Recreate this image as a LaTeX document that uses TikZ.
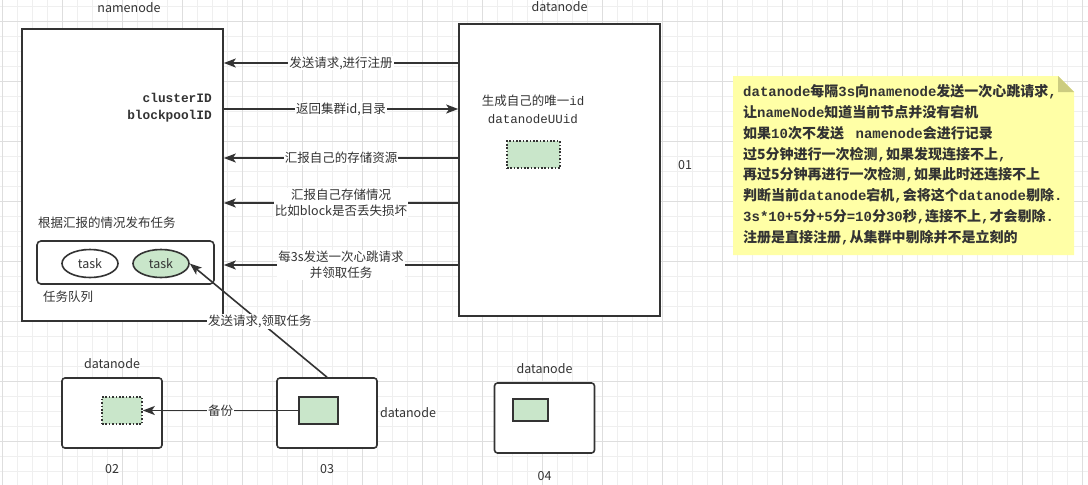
\documentclass[tikz,border=0pt]{standalone}
\usepackage{fontspec}
\setmainfont{Noto Sans CJK SC}
\setmonofont{Liberation Mono}
\usetikzlibrary{positioning,arrows.meta,shapes.geometric}

\definecolor{ink}{HTML}{333333}
\definecolor{leaf}{HTML}{C9E6CA}
\definecolor{memo}{HTML}{FFFFA6}
\definecolor{memofold}{HTML}{CCCC80}
\definecolor{gridminor}{HTML}{EFEFEF}
\definecolor{gridmajor}{HTML}{DEDEDE}

\newcommand{\mtxt}[1]{{\ttfamily #1}}

\tikzset{
>={Stealth[length=12pt,width=9pt,inset=3pt]},
  server/.style={
    rectangle,
    draw=ink, line width=1.6pt,
    fill=white,
    minimum width=201pt,
    minimum height=292pt},
  minibox/.style={
    rectangle,
    rounded corners=3pt,
    draw=ink, line width=1.6pt,
    fill=white,
    minimum width=100pt,
    minimum height=70pt},
  block/.style={rectangle, draw=ink, line width=1.6pt, fill=leaf,
    minimum width=39pt, minimum height=27pt, inner sep=0pt},
  copyblock/.style={block, dash pattern=on 1.6pt off 1.8pt},
  tasknode/.style={ellipse, draw=ink, line width=1.6pt, fill=white,
    minimum width=56pt, minimum height=28pt, inner sep=0pt,
    text=ink, font=\fontsize{12.5}{15}\selectfont},
  line/.style={draw=ink, line width=1.6pt, ->},
  msg/.style={fill=white, inner sep=1pt, align=center, text=ink,
    font=\fontsize{12.5}{16}\selectfont},
  caption/.style={text=ink, inner sep=0pt, align=center,
    font=\fontsize{12.5}{18}\selectfont},
  code/.style={text=ink, inner sep=0pt, align=right,
    font=\fontsize{12.8}{17}\selectfont\ttfamily\bfseries},
  memotext/.style={text=ink, inner sep=0pt, align=left,
    font=\fontsize{14}{20.9}\selectfont\bfseries},
  minorgrid/.style={draw=gridminor, line width=0.8pt},
  majorgrid/.style={draw=gridmajor, line width=0.8pt},
}

\begin{document}
\begin{tikzpicture}[x=1pt, y=-1pt, node distance=8pt]
\useasboundingbox[fill=white] (0,0) rectangle (1088,485);
% background grid
\foreach \gx in {2,17,...,1088} \draw[minorgrid] (\gx,0) -- (\gx,485);
\foreach \gy in {6,21,...,485} \draw[minorgrid] (0,\gy) -- (1088,\gy);
\foreach \gx in {2,62,...,1088} \draw[majorgrid] (\gx,0) -- (\gx,485);
\foreach \gy in {21,81,...,485} \draw[majorgrid] (0,\gy) -- (1088,\gy);

% namenode
\node[server] (nn) at (122.5,175) {};
\node[caption, above=15pt of nn, xshift=6.5pt] (nnlabel) {namenode};
\node[code, anchor=east] (ids) at (212,107.5) {clusterID\\blockpoolID};
\node[caption, anchor=west] (plan) at (38,223) {根据汇报的情况发布任务};
\node[draw=ink, line width=1.6pt, rounded corners=4pt,
  minimum width=177pt, minimum height=43pt] (queue) at (125.5,262.5) {};
\node[tasknode] (t1) at (90,263.5) {task};
\node[tasknode, fill=leaf] (t2) at (161,263.5) {task};
\node[caption, anchor=west] (qlabel) at (43,297) {任务队列};

% datanode 01
\node[server] (dn) at (559.5,170) {};
\node[caption, above=11pt of dn] (dnlabel) {datanode};
\node[caption] (uid) at (533,109) {生成自己的唯一\mtxt{id}\\\mtxt{datanodeUUid}};
\node[copyblock, minimum width=53pt] (c01) at (533.5,154.5) {};
\node[caption] (n01) at (685,165) {01};

% messages
\coordinate (r1) at (0,63);
\coordinate (r2) at (0,109);
\coordinate (r3) at (0,158);
\coordinate (r4) at (0,203);
\coordinate (r5) at (0,265);
\draw[line] (dn.west |- r1) -- node[msg] {发送请求,进行注册} (nn.east |- r1);
\draw[line] (nn.east |- r2) -- node[msg] {返回集群id,目录} (dn.west |- r2);
\draw[line] (dn.west |- r3) -- node[msg] {汇报自己的存储资源} (nn.east |- r3);
\draw[line] (dn.west |- r4) -- node[msg] {汇报自己存储情况\\比如block是否丢失损坏} (nn.east |- r4);
\draw[line] (dn.west |- r5) -- node[msg] {每3s发送一次心跳请求\\并领取任务} (nn.east |- r5);

% datanodes 02 03 04
\node[minibox] (b02) at (112,413) {};
\node[minibox] (b03) at (327,413) {};
\node[minibox] (b04) at (544.5,418) {};
\node[copyblock, minimum width=40pt] (c02) at (122,410.5) {};
\node[block] (c03) at (318.5,410.5) {};
\node[block, minimum width=35pt, minimum height=22pt] (c04) at (530.5,410) {};
\node[caption, above=8pt of b02] (l02) {datanode};
\node[caption, right=2pt of b03] (l03) {datanode};
\node[caption, above=8pt of b04] (l04) {datanode};
\node[caption, below=15pt of b02] (n02) {02};
\node[caption, below=15pt of b03] (n03) {03};
\node[caption, below=17pt of b04] (n04) {04};

\draw[line] (c03.west) -- node[msg] {备份} (c02.east);
\draw[line] (b03.north) -- node[msg, pos=0.49] {发送请求,领取任务} (t2.east);

% note
\path[fill=memo] (733,76) -- (1058,76) -- (1074,92) -- (1074,255) -- (733,255) -- cycle;
\path[fill=memofold] (1058,76) -- (1058,92) -- (1074,92) -- cycle;
\node[memotext, anchor=north west] (memo) at (743,84) {%
\mtxt{datanode}每隔\mtxt{3s}向\mtxt{namenode}发送一次心跳请求\mtxt{,}\\
让\mtxt{nameNode}知道当前节点并没有宕机\\
如果\mtxt{10}次不发送 \mtxt{ namenode}会进行记录\\
过5分钟进行一次检测\mtxt{,}如果发现连接不上\mtxt{,}\\
再过5分钟再进行一次检测\mtxt{,}如果此时还连接不上\\
判断当前\mtxt{datanode}宕机\mtxt{,}会将这个\mtxt{datanode}剔除\mtxt{.}\\
\mtxt{3s*10+5}分\mtxt{+5}分\mtxt{=10}分\mtxt{30}秒\mtxt{,}连接不上\mtxt{,}才会剔除\mtxt{.}\\
注册是直接注册\mtxt{,}从集群中剔除并不是立刻的};
\end{tikzpicture}
\end{document}
